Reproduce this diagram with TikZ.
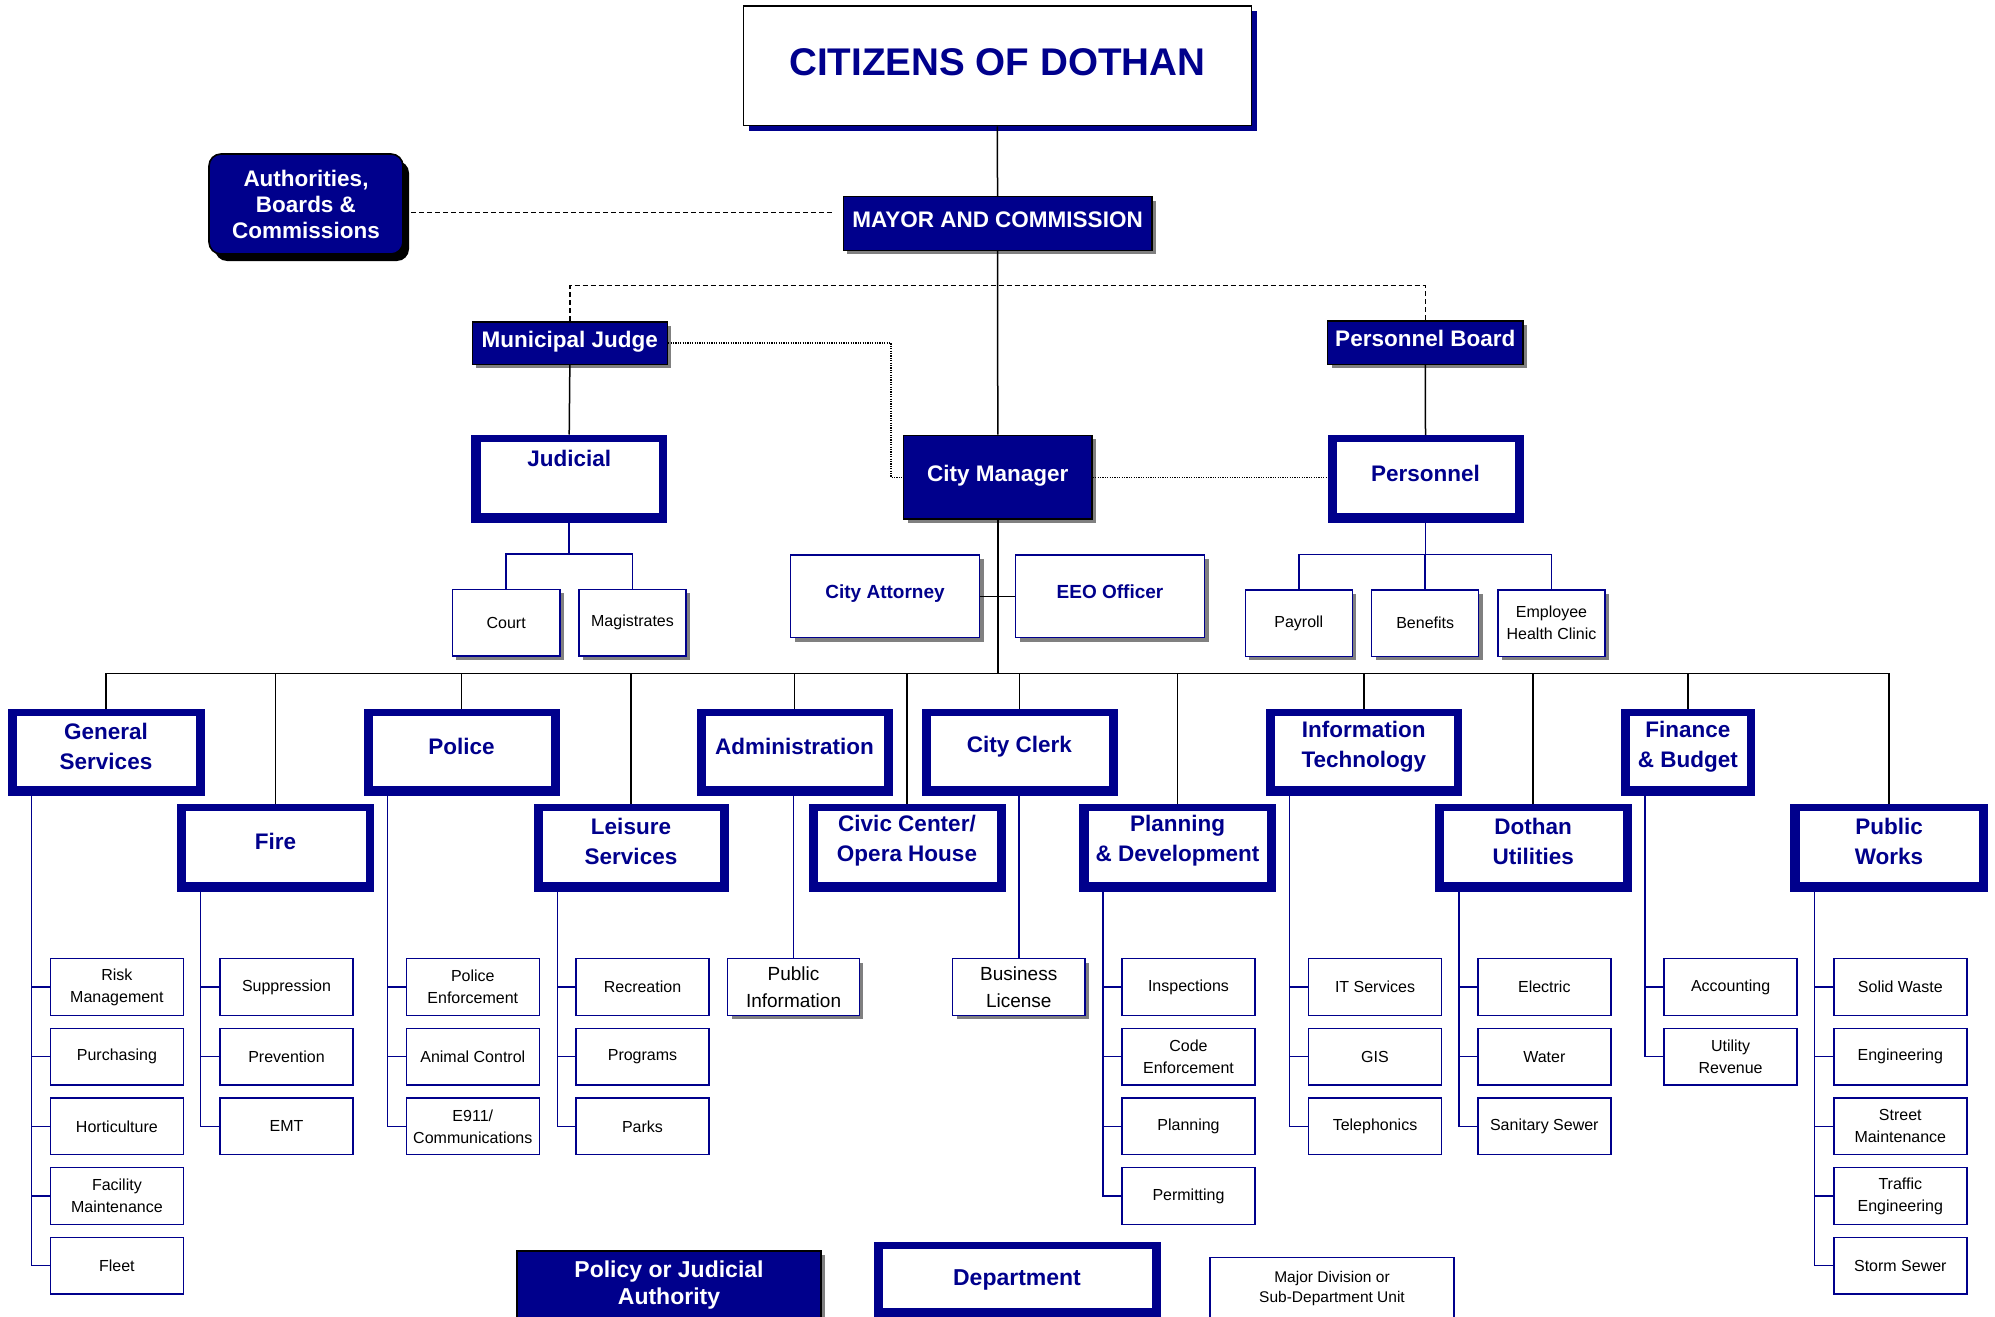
\documentclass[tikz,border=0pt]{standalone}
\usepackage{fontspec}
\setmainfont{Liberation Sans}
\usetikzlibrary{shadows}
\definecolor{navy}{RGB}{0,0,140}
\definecolor{shgray}{RGB}{128,128,128}
\newcommand\bx[7]{%
  \pgfmathsetmacro\bxw{((#5)-(#3))*0.5}%
  \pgfmathsetmacro\bxh{((#6)-(#4))*0.5}%
  \pgfmathsetmacro\bxx{((#3)+(#5))/2}%
  \pgfmathsetmacro\bxy{((#4)+(#6))/2}%
  \node[#2, minimum width=\bxw pt, minimum height=\bxh pt] (#1) at (\bxx,\bxy) {#7};}
\newcommand\subu[4]{%
  \pgfmathsetmacro\suy{958.5+69.7*((#3)-1)}%
  \bx{#1}{subbox}{#2}{\suy}{#2+133}{\suy+56.8}{#4}}
\tikzset{
 blk/.style={draw=black, line width=0.75pt},
 nvl/.style={draw=navy, line width=0.75pt},
 dashl/.style={draw=black, line width=0.75pt, dash pattern=on 2.5pt off 1.5pt},
 dotl/.style={draw=black, line width=0.6pt, dash pattern=on 0.6pt off 0.6pt},
 gshadow/.style={drop shadow={shadow xshift=2pt, shadow yshift=-2pt, fill=shgray, opacity=1}},
 navybox/.style={draw=black, line width=0.8pt, fill=navy, text=white, font=\bfseries\fontsize{11.25}{13}\selectfont, inner sep=0pt, text height=8pt, text depth=4pt, gshadow},
 authbox/.style={draw=black, line width=0.8pt, fill=navy, text=white, rounded corners=6pt, align=center, font=\bfseries\fontsize{11.25}{13}\selectfont, inner sep=0pt, drop shadow={shadow xshift=3pt, shadow yshift=-3.5pt, fill=black, opacity=1}},
 citbox/.style={draw=black, line width=0.8pt, fill=white, text=navy, font=\bfseries\fontsize{19.3}{22}\selectfont, inner sep=0pt, text height=14pt, text depth=4pt, drop shadow={shadow xshift=3pt, shadow yshift=-2.5pt, fill=navy, opacity=1}},
 deptbox/.style={fill=navy, draw=navy, line width=0.5pt, inner sep=0pt, path picture={\fill[white] ([xshift=4.5pt,yshift=4.5pt]path picture bounding box.south west) rectangle ([xshift=-4pt,yshift=-3.25pt]path picture bounding box.north east);}},
 depttext/.style={text=navy, font=\bfseries\fontsize{11.25}{15}\selectfont, align=center, inner sep=0pt},
 subbox/.style={draw=navy, line width=0.7pt, fill=white, inner sep=0pt, align=center, font=\fontsize{8}{11}\selectfont},
 topsub/.style={subbox, gshadow},
 cabox/.style={draw=navy, line width=0.7pt, fill=white, inner sep=0pt, text=navy, font=\bfseries\fontsize{9.5}{12}\selectfont, text height=6.8pt, text depth=4.7pt, gshadow},
 infobox/.style={subbox, gshadow, font=\fontsize{9.5}{13.5}\selectfont},
 legpol/.style={draw=black, line width=1.2pt, fill=navy, inner sep=0pt, gshadow},
}
\begin{document}
\begin{tikzpicture}[x=0.5pt,y=-0.5pt]
\useasboundingbox (0,0) rectangle (1995,1316);
\clip (0,0) rectangle (1995,1316);
% top level
\bx{cit}{citbox}{743.3}{6}{1251.3}{125.7}{CITIZENS OF DOTHAN}
\bx{auth}{authbox}{209}{154}{403}{254}{Authorities,\\Boards \&\\Commissions}
\bx{mayor}{navybox}{843.3}{196.7}{1151.8}{250.3}{MAYOR AND COMMISSION}
\bx{mj}{navybox}{472.3}{321.7}{667.4}{364.3}{Municipal Judge}
\bx{pb}{navybox}{1327.5}{321}{1523}{364.3}{Personnel Board}
\bx{cm}{navybox}{903.6}{435.3}{1092}{519}{City Manager}
\bx{jud}{deptbox}{471.7}{435}{666.7}{522.3}{}
\node[depttext] (jud-t) at (569.2,458.3) {Judicial};
\bx{pers}{deptbox}{1328}{435.7}{1523}{522.3}{}
\node[depttext] (pers-t) at (1425.5,473.3) {Personnel};
\bx{ca}{cabox}{790.6}{555}{979.5}{637.7}{City Attorney}
\bx{eeo}{cabox}{1015.6}{555}{1204.5}{637.7}{EEO Officer}
\bx{court}{topsub}{452.3}{589.3}{560}{656}{Court}
\bx{mag}{topsub}{579}{589.3}{686}{656}{Magistrates}
\bx{pay}{topsub}{1245.3}{590}{1352.3}{656.3}{Payroll}
\bx{ben}{topsub}{1371.7}{590}{1478.7}{656.3}{Benefits}
\bx{ehc}{topsub}{1498}{590}{1605}{656.3}{Employee\\Health Clinic}
% departments
\bx{gs}{deptbox}{8}{709}{204}{795}{}
\bx{pol}{deptbox}{364}{709}{559}{795}{}
\bx{adm}{deptbox}{697}{709}{892}{795}{}
\bx{clerk}{deptbox}{922}{709}{1117}{795}{}
\bx{it}{deptbox}{1266}{709}{1461.5}{795}{}
\bx{fin}{deptbox}{1621.3}{709}{1754.5}{795}{}
\bx{fire}{deptbox}{177.2}{804}{373.7}{891}{}
\bx{leis}{deptbox}{534}{804}{728}{891}{}
\bx{civ}{deptbox}{809}{804}{1005}{891}{}
\bx{plan}{deptbox}{1079.5}{804}{1275.4}{891}{}
\bx{util}{deptbox}{1435.3}{804}{1631.1}{891}{}
\bx{pw}{deptbox}{1790.9}{804}{1987.1}{891}{}
\node[depttext] (gs-t) at (106,746.5) {General\\Services};
\node[depttext] (pol-t) at (461.5,746.5) {Police};
\node[depttext] (adm-t) at (794.5,746.5) {Administration};
\node[depttext] (clerk-t) at (1019.5,746.5) {City Clerk};
\node[depttext] (it-t) at (1363.8,746.5) {Information\\Technology};
\node[depttext] (fin-t) at (1687.9,746.5) {Finance\\\& Budget};
\node[depttext] (fire-t) at (275.5,841) {Fire};
\node[depttext] (leis-t) at (631,841) {Leisure\\Services};
\node[depttext] (civ-t) at (907,841) {Civic Center/\\Opera House};
\node[depttext] (plan-t) at (1177.5,841) {Planning\\\& Development};
\node[depttext] (util-t) at (1533.2,841) {Dothan\\Utilities};
\node[depttext] (pw-t) at (1889,841) {Public\\Works};
% sub-units
\subu{gs1}{50.4}{1}{Risk\\Management}
\subu{gs2}{50.4}{2}{Purchasing}
\subu{gs3}{50.4}{3}{Horticulture}
\subu{gs4}{50.4}{4}{Facility\\Maintenance}
\subu{gs5}{50.4}{5}{Fleet}
\subu{fi1}{220}{1}{Suppression}
\subu{fi2}{220}{2}{Prevention}
\subu{fi3}{220}{3}{EMT}
\subu{po1}{406.3}{1}{Police\\Enforcement}
\subu{po2}{406.3}{2}{Animal Control}
\subu{po3}{406.3}{3}{E911/\\Communications}
\subu{le1}{576}{1}{Recreation}
\subu{le2}{576}{2}{Programs}
\subu{le3}{576}{3}{Parks}
\subu{pl1}{1122}{1}{Inspections}
\subu{pl2}{1122}{2}{Code\\Enforcement}
\subu{pl3}{1122}{3}{Planning}
\subu{pl4}{1122}{4}{Permitting}
\subu{it1}{1308.5}{1}{IT Services}
\subu{it2}{1308.5}{2}{GIS}
\subu{it3}{1308.5}{3}{Telephonics}
\subu{du1}{1477.8}{1}{Electric}
\subu{du2}{1477.8}{2}{Water}
\subu{du3}{1477.8}{3}{Sanitary Sewer}
\subu{fb1}{1664.1}{1}{Accounting}
\subu{fb2}{1664.1}{2}{Utility\\Revenue}
\subu{pw1}{1833.8}{1}{Solid Waste}
\subu{pw2}{1833.8}{2}{Engineering}
\subu{pw3}{1833.8}{3}{Street\\Maintenance}
\subu{pw4}{1833.8}{4}{Traffic\\Engineering}
\subu{pw5}{1833.8}{5}{Storm Sewer}
\bx{pinfo}{infobox}{727.7}{958.5}{859.4}{1015.3}{Public\\Information}
\bx{blic}{infobox}{952.7}{958.5}{1084.8}{1015.3}{Business\\License}
% legend
\bx{lpol}{legpol}{517}{1251}{821}{1330}{}
\node[text=white, font=\bfseries\fontsize{11.5}{13.5}\selectfont, align=center, inner sep=0pt] (lpol-t) at (669,1284.6) {Policy or Judicial\\Authority};
\bx{ldept}{deptbox}{874.4}{1242.7}{1160}{1317}{}
\node[depttext, font=\bfseries\fontsize{11.5}{15}\selectfont] (ldept-t) at (1017,1280) {Department};
\bx{lsub}{subbox}{1209.8}{1257.3}{1454}{1330}{}
\node[align=center, inner sep=0pt, font=\fontsize{7.75}{9.7}\selectfont] (lsub-t) at (1332,1288.6) {Major Division or\\Sub-Department Unit};
% connectors
\draw[blk] (cit.south) -- (mayor.north);
\draw[blk] (mayor.south) -- (cm.north);
\coordinate (dl) at (569.6,285.7);
\draw[dashl] (mj.north) -- (mj.north |- dl) -- (pb.north |- dl) -- (pb.north);
\coordinate (aa) at ([yshift=-4.35pt]auth.east);
\draw[dashl, shorten <=3.8pt, shorten >=3.8pt] (aa) -- (aa -| mayor.west);
\coordinate (dk) at (891,410);
\draw[dotl] (mj.east) -| (dk) |- (cm.west);
\draw[dotl] (cm.east) -- (cm.east -| pers.west);
\draw[blk] (mj.south) -- (jud.north);
\draw[blk] (pb.south) -- (pers.north);
\coordinate (jb) at (569.2,554);
\draw[nvl] (jud.south) -- (jb);
\draw[nvl] (court.north) |- (jb);
\draw[nvl] (mag.north) |- (jb);
\coordinate (pbb) at (1425.5,554.3);
\draw[nvl] (pers.south) -- (pbb);
\draw[nvl] (pay.north) |- (pbb);
\draw[nvl] (ben.north) |- (pbb);
\draw[nvl] (ehc.north) |- (pbb);
\draw[blk] (ca.east) -- (eeo.west);
\coordinate (bus) at (997.8,673.3);
\draw[blk] (cm.south) -- (bus);
\foreach \n in {gs,fire,pol,leis,adm,civ,clerk,plan,it,util,fin,pw}
  \draw[blk] (\n.north) |- (bus);
\draw[nvl] (pinfo.north |- adm.south) -- (pinfo.north);
\draw[nvl] (blic.north |- clerk.south) -- (blic.north);
\foreach \p/\c in {gs/gs1,gs/gs2,gs/gs3,gs/gs4,gs/gs5,fire/fi1,fire/fi2,fire/fi3,pol/po1,pol/po2,pol/po3,leis/le1,leis/le2,leis/le3,plan/pl1,plan/pl2,plan/pl3,plan/pl4,it/it1,it/it2,it/it3,util/du1,util/du2,util/du3,fin/fb1,fin/fb2,pw/pw1,pw/pw2,pw/pw3,pw/pw4,pw/pw5}
  \draw[nvl] ([xshift=12pt]\p.south west) |- (\c.west);
\end{tikzpicture}
\end{document}
